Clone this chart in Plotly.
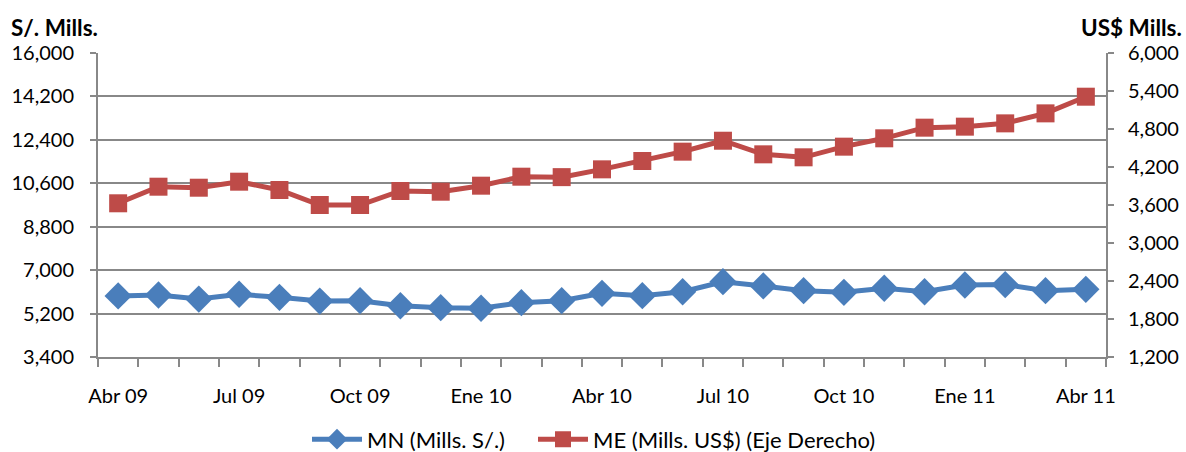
import plotly.graph_objects as go

months = ["Abr 09", "May 09", "Jun 09", "Jul 09", "Ago 09", "Set 09", "Oct 09", "Nov 09", "Dic 09",
          "Ene 10", "Feb 10", "Mar 10", "Abr 10", "May 10", "Jun 10", "Jul 10", "Ago 10", "Set 10",
          "Oct 10", "Nov 10", "Dic 10", "Ene 11", "Feb 11", "Mar 11", "Abr 11"]
mn_values = [5930, 5970, 5800, 6000, 5875, 5720, 5735, 5525, 5445, 5420, 5650, 5735, 6040,
             5940, 6105, 6520, 6345, 6150, 6080, 6250, 6105, 6385, 6400, 6150, 6205]
me_values = [3627, 3889, 3873, 3968, 3837, 3600, 3600, 3821, 3810, 3905, 4047, 4040, 4163,
             4295, 4442, 4615, 4400, 4353, 4521, 4653, 4821, 4837, 4889, 5047, 5310]
left_ticks = [3400, 5200, 7000, 8800, 10600, 12400, 14200, 16000]
right_ticks = [1200, 1800, 2400, 3000, 3600, 4200, 4800, 5400, 6000]
label_every = 3

x_idx = list(range(len(months)))
tick_idx = [i for i in x_idx if i % label_every == 0]
tick_txt = [months[i] for i in tick_idx]

FONT = "Lato"
GRAY = "#888888"

fig = go.Figure()
fig.add_trace(go.Scatter(
    x=x_idx, y=mn_values, name="MN (Mills. S/.)", mode="lines+markers",
    line=dict(color="#4A7EBB", width=5),
    marker=dict(symbol="diamond", size=21, color="#4A7EBB"),
    yaxis="y", legend="legend"))
fig.add_trace(go.Scatter(
    x=x_idx, y=me_values, name="ME (Mills. US$) (Eje Derecho)", mode="lines+markers",
    line=dict(color="#BE4B48", width=5),
    marker=dict(symbol="square", size=18, color="#BE4B48"),
    yaxis="y2", legend="legend2"))

leg_common = dict(orientation="h", xref="container", yref="container",
                  xanchor="left", y=0.028, yanchor="middle",
                  font=dict(size=22), itemwidth=50)

fig.update_layout(
    width=1186, height=452,
    margin=dict(l=98, r=80, t=53, b=95, autoexpand=False),
    paper_bgcolor="white", plot_bgcolor="white",
    font=dict(family=FONT, size=20, color="#000000"),
    showlegend=True,
    legend=dict(x=307 / 1186, **leg_common),
    legend2=dict(x=533 / 1186, **leg_common),
    xaxis=dict(range=[-0.5, len(months) - 0.5], tickmode="array", tickvals=tick_idx,
               ticktext=tick_txt, ticks="outside", ticklen=0, ticklabelstandoff=20,
               automargin=False,
               showgrid=False, zeroline=False, showline=True, linecolor=GRAY, linewidth=2,
               minor=dict(tickmode="linear", tick0=0.5, dtick=1, ticks="outside",
                          ticklen=8, tickwidth=2, tickcolor=GRAY, showgrid=False)),
    yaxis=dict(range=[left_ticks[0], left_ticks[-1]], tickmode="array", tickvals=left_ticks,
               tickformat=",", ticks="outside", ticklen=6, tickwidth=2, tickcolor=GRAY,
               automargin=False,
               showgrid=True, gridcolor=GRAY, gridwidth=2, zeroline=False,
               showline=True, linecolor=GRAY, linewidth=2, ticklabelstandoff=12),
    yaxis2=dict(range=[right_ticks[0], right_ticks[-1]], tickmode="array", tickvals=right_ticks,
                tickformat=",", overlaying="y", side="right", ticks="outside", ticklen=6,
                automargin=False,
                tickwidth=2, tickcolor=GRAY, showgrid=False, zeroline=False,
                showline=True, linecolor=GRAY, linewidth=2, ticklabelstandoff=10),
    annotations=[
        dict(text="<b>S/. Mills.</b>", xref="paper", yref="paper", x=-0.088, y=1.085,
             xanchor="left", yanchor="middle", showarrow=False, font=dict(size=22.5)),
        dict(text="<b>US$ Mills.</b>", xref="paper", yref="paper", x=1.077, y=1.085,
             xanchor="right", yanchor="middle", showarrow=False, font=dict(size=22.5)),
    ],
)

fig.write_html("out.html", config={"displayModeBar": False},
               post_script="document.body.style.margin='0';document.body.style.overflow='hidden';")
